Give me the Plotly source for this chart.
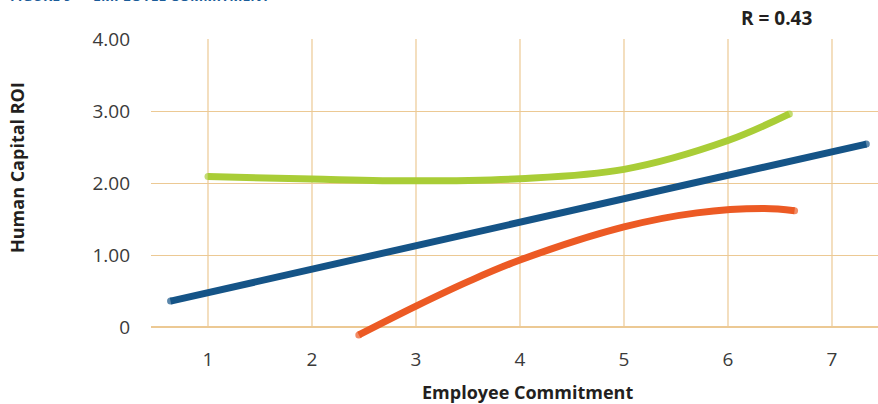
import plotly.graph_objects as go

# ---- data ----
green_x = [1.0, 2.0, 3.0, 4.0, 5.0, 6.0, 6.59]
green_y = [2.09, 2.055, 2.03, 2.06, 2.19, 2.59, 2.96]

blue_x = [0.64, 7.33]
blue_y = [0.36, 2.54]

orange_x = [2.45, 3.0, 3.5, 4.0, 5.0, 5.7, 6.35, 6.64]
orange_y = [-0.11, 0.29, 0.63, 0.93, 1.39, 1.585, 1.645, 1.615]

x_ticks = [1, 2, 3, 4, 5, 6, 7]
y_ticks = [0, 1, 2, 3, 4]
y_tick_labels = ["0", "1.00", "2.00", "3.00", "4.00"]

title_text = "FIGURE 9 — EMPLOYEE COMMITMENT"
r_text = "R = 0.43"
x_title = "Employee Commitment"
y_title = "Human Capital ROI"

GREEN = "#a9cd37"
BLUE = "#155487"
ORANGE = "#ec5a24"
GRID = "#ecc994"
FONT = "Open Sans"

def caps(n, s=7):
    return [s] + [0] * (n - 2) + [s]

fig = go.Figure()
for xs, ys, col in [(green_x, green_y, GREEN), (blue_x, blue_y, BLUE), (orange_x, orange_y, ORANGE)]:
    fig.add_trace(go.Scatter(
        x=xs, y=ys, mode="lines+markers",
        line=dict(color=col, width=7, shape="spline", smoothing=1.0),
        marker=dict(color=col, size=caps(len(xs)), line=dict(width=0)),
        showlegend=False, hoverinfo="skip", cliponaxis=False,
    ))

shapes = []
for xv in x_ticks:
    shapes.append(dict(type="line", xref="x", yref="y", x0=xv, x1=xv, y0=0, y1=y_ticks[-1],
                       line=dict(color=GRID, width=1.2), layer="below"))
fig.update_layout(shapes=shapes)

fig.update_layout(
    width=878, height=404,
    margin=dict(l=151, r=0, t=39, b=59),
    plot_bgcolor="white", paper_bgcolor="white",
    font=dict(family=FONT, color="#3a3a3a"),
    xaxis=dict(range=[0.4519, 7.4423], tickvals=x_ticks, showgrid=False, zeroline=False,
               showline=False, ticks="", tickfont=dict(size=19, color="#3a3a3a", family=FONT),
               ticklabelstandoff=1),
    yaxis=dict(range=[-0.25, 4.0], tickvals=y_ticks, ticktext=y_tick_labels,
               showgrid=True, gridcolor=GRID, gridwidth=1.2,
               zeroline=True, zerolinecolor=GRID, zerolinewidth=2,
               showline=False, ticks="", tickfont=dict(size=19, color="#3a3a3a", family=FONT),
               ticklabelstandoff=20),
    annotations=[
        dict(text=title_text, xref="paper", yref="paper", x=(8 - 151) / 727, y=(345 - 7) / 306,
             xanchor="left", yanchor="bottom", showarrow=False,
             font=dict(size=14, color="#1b5c99", family=FONT, weight="bold")),
        dict(text=r_text, xref="paper", yref="paper", x=(776 - 151) / 727, y=(345 - 18) / 306,
             xanchor="center", yanchor="middle", showarrow=False,
             font=dict(size=19, color="#231f20", family=FONT, weight="bold")),
        dict(text=x_title, xref="paper", yref="paper", x=(527 - 151) / 727, y=(345 - 392) / 306,
             xanchor="center", yanchor="middle", showarrow=False,
             font=dict(size=18, color="#231f20", family=FONT, weight="bold")),
        dict(text=y_title, xref="paper", yref="paper", x=(17 - 151) / 727, y=(345 - 168) / 306,
             xanchor="center", yanchor="middle", showarrow=False, textangle=-90,
             font=dict(size=18, color="#231f20", family=FONT, weight="bold")),
    ],
)

fig.write_html("out.html")
